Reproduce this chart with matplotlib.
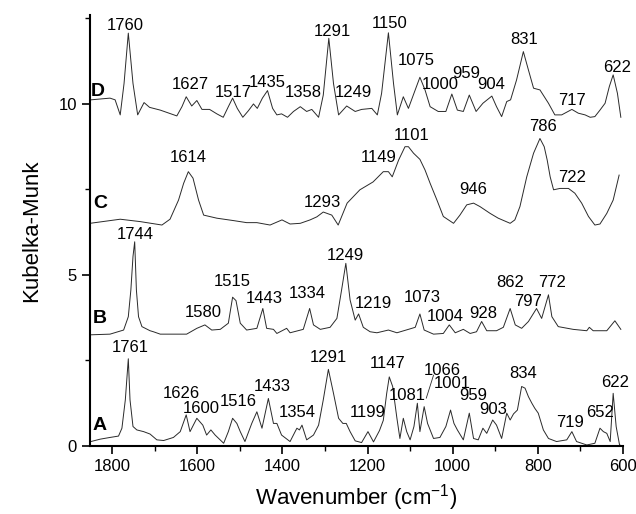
import matplotlib
matplotlib.use('Agg')
import matplotlib.pyplot as plt
from matplotlib.ticker import MultipleLocator

plt.rcParams['font.family'] = 'Liberation Sans'
plt.rcParams['mathtext.default'] = 'regular'

# spectrum A (offset 0)
wn_A = [1850, 1828, 1805, 1785, 1777, 1769, 1762, 1758, 1751, 1742, 1726, 1711, 1695, 1679,
        1656, 1640, 1626, 1617, 1601, 1587, 1578, 1568, 1558, 1538, 1527, 1517, 1507, 1499,
        1488, 1472, 1460, 1448, 1433, 1421, 1413, 1402, 1382, 1366, 1360, 1354, 1343, 1327,
        1315, 1304, 1292, 1280, 1268, 1258, 1250, 1241, 1229, 1214, 1199, 1186, 1172, 1163,
        1155, 1149, 1141, 1131, 1124, 1116, 1108, 1100, 1091, 1083, 1077, 1067, 1059, 1045,
        1030, 1016, 1005, 997, 989, 975, 961, 951, 940, 929, 920, 906, 897, 885, 873, 865,
        857, 848, 838, 830, 822, 814, 807, 799, 787, 775, 756, 732, 720, 709, 685, 666, 654,
        646, 638, 630, 623, 616, 608, 601]
km_A = [0.13, 0.20, 0.25, 0.29, 0.52, 1.35, 2.55, 1.35, 0.57, 0.47, 0.42, 0.35, 0.18, 0.16,
        0.25, 0.42, 0.91, 0.42, 0.81, 0.61, 0.32, 0.47, 0.32, 0.08, 0.42, 0.81, 0.66, 0.42,
        0.13, 0.66, 1.00, 0.52, 1.39, 0.66, 0.66, 0.32, 0.13, 0.52, 0.47, 0.61, 0.18, 0.32,
        0.61, 1.35, 2.24, 1.54, 0.81, 0.66, 0.66, 0.42, 0.15, 0.10, 0.42, 0.12, 0.45, 0.75,
        1.54, 2.02, 1.74, 0.81, 0.22, 0.81, 0.42, 0.18, 0.57, 1.25, 0.42, 1.15, 0.66, 0.22,
        0.25, 0.57, 1.05, 0.66, 0.47, 0.18, 0.96, 0.22, 0.18, 0.52, 0.37, 0.76, 0.61, 0.22,
        0.96, 0.76, 0.94, 1.05, 1.74, 1.69, 1.44, 1.25, 1.10, 0.96, 0.47, 0.22, 0.13, 0.18,
        0.42, 0.13, 0.03, 0.08, 0.52, 0.42, 0.37, 0.13, 1.54, 0.57, 0.03, 0.00]

# spectrum B
wn_B = [1852, 1805, 1773, 1762, 1756, 1751, 1747, 1743, 1738, 1730, 1711, 1703, 1687, 1625,
        1601, 1582, 1566, 1546, 1527, 1517, 1509, 1499, 1484, 1460, 1446, 1437, 1421, 1413,
        1390, 1382, 1351, 1336, 1327, 1311, 1288, 1272, 1261, 1251, 1241, 1229, 1221, 1210,
        1194, 1178, 1151, 1131, 1104, 1088, 1077, 1067, 1045, 1022, 1008, 994, 975, 959,
        944, 932, 920, 897, 881, 865, 853, 838, 822, 803, 791, 775, 767, 752, 717, 685, 679,
        670, 638, 619, 605]
km_B = [3.25, 3.27, 3.39, 3.78, 4.56, 5.54, 5.97, 4.56, 3.78, 3.49, 3.37, 3.34, 3.27, 3.27,
        3.44, 3.54, 3.39, 3.41, 3.59, 4.35, 4.25, 3.59, 3.39, 3.44, 4.02, 3.44, 3.41, 3.29,
        3.44, 3.31, 3.41, 4.02, 3.54, 3.41, 3.47, 3.73, 4.56, 5.34, 4.27, 3.68, 3.86, 3.47,
        3.34, 3.31, 3.39, 3.31, 3.41, 3.47, 3.86, 3.39, 3.27, 3.29, 3.54, 3.31, 3.41, 3.29,
        3.34, 3.64, 3.37, 3.37, 3.47, 4.02, 3.54, 3.44, 3.64, 4.02, 3.73, 4.42, 3.78, 3.49,
        3.41, 3.37, 3.47, 3.37, 3.37, 3.66, 3.41]

# spectrum C
wn_C = [1852, 1781, 1734, 1683, 1664, 1644, 1632, 1621, 1610, 1597, 1585, 1554, 1515, 1484,
        1460, 1429, 1401, 1382, 1358, 1335, 1319, 1304, 1284, 1269, 1248, 1218, 1187, 1163,
        1151, 1142, 1127, 1112, 1104, 1092, 1077, 1065, 1053, 1037, 1022, 998, 983, 967,
        951, 936, 912, 893, 865, 854, 842, 826, 810, 795, 785, 778, 771, 763, 748, 728, 713,
        697, 681, 666, 654, 638, 623, 609]
km_C = [6.51, 6.63, 6.56, 6.46, 6.63, 7.19, 7.68, 8.02, 7.83, 7.19, 6.75, 6.66, 6.59, 6.53,
        6.53, 6.46, 6.61, 6.49, 6.51, 6.61, 6.70, 6.84, 6.75, 6.46, 7.10, 7.49, 7.72, 8.02,
        8.02, 7.87, 8.36, 8.75, 8.75, 8.56, 8.38, 8.07, 7.68, 7.19, 6.71, 6.51, 6.75, 7.05,
        7.10, 7.00, 6.80, 6.66, 6.51, 6.61, 7.00, 7.87, 8.56, 8.99, 8.75, 8.36, 7.87, 7.49,
        7.53, 7.53, 7.39, 7.10, 6.71, 6.46, 6.49, 6.80, 7.19, 7.92]

# spectrum D
wn_D = [1850, 1805, 1793, 1781, 1772, 1762, 1751, 1740, 1725, 1712, 1687, 1648, 1636, 1626,
        1613, 1601, 1589, 1571, 1554, 1539, 1527, 1517, 1506, 1493, 1480, 1468, 1459, 1447,
        1435, 1423, 1413, 1402, 1388, 1374, 1358, 1343, 1331, 1315, 1304, 1291, 1280, 1268,
        1249, 1229, 1214, 1190, 1177, 1167, 1151, 1139, 1130, 1116, 1104, 1091, 1077, 1065,
        1053, 1034, 1016, 1002, 989, 975, 961, 945, 929, 908, 897, 885, 873, 864, 850, 834,
        822, 810, 795, 775, 760, 744, 720, 705, 689, 677, 666, 654, 642, 632, 623, 613, 605]
km_D = [10.12, 10.17, 10.12, 9.68, 10.60, 12.07, 10.60, 9.68, 10.04, 9.90, 9.82, 9.65, 9.92,
        10.21, 9.94, 10.10, 9.84, 9.84, 9.71, 9.61, 9.92, 10.17, 9.87, 9.61, 9.80, 10.00,
        9.87, 10.17, 10.39, 9.87, 9.68, 9.71, 9.61, 9.78, 9.92, 9.78, 9.84, 9.61, 10.26,
        11.92, 10.60, 9.68, 9.94, 9.78, 9.84, 9.87, 9.68, 10.31, 12.08, 10.60, 9.68, 10.21,
        9.87, 10.31, 10.78, 10.41, 9.92, 9.78, 9.78, 10.29, 9.82, 9.78, 10.26, 9.78, 10.02,
        10.23, 9.92, 9.63, 10.07, 10.12, 10.70, 11.53, 10.99, 10.46, 10.41, 10.02, 9.68, 9.68,
        9.84, 9.73, 9.68, 9.61, 9.63, 9.82, 10.02, 10.51, 10.85, 10.31, 9.61]

# peak labels: (text, wavenumber, KM) for the text centre
labels_A = [('1761', 1758, 2.87), ('1626', 1638, 1.54), ('1600', 1591, 1.11),
            ('1516', 1504, 1.29), ('1433', 1424, 1.73), ('1354', 1365, 0.97),
            ('1291', 1293, 2.60), ('1199', 1199, 0.97), ('1147', 1152, 2.42),
            ('1081', 1107, 1.49), ('1066', 1025, 2.22), ('1001', 1002, 1.84),
            ('959', 952, 1.49), ('903', 905, 1.08), ('834', 835, 2.13),
            ('719', 724, 0.70), ('652', 654, 0.99), ('622', 619, 1.87)]
labels_B = [('1744', 1746, 6.17), ('1580', 1586, 3.89), ('1515', 1518, 4.82),
            ('1443', 1443, 4.30), ('1334', 1342, 4.47), ('1249', 1253, 5.56),
            ('1219', 1187, 4.18), ('1073', 1072, 4.33), ('1004', 1018, 3.80),
            ('928', 929, 3.86), ('862', 865, 4.77), ('797', 823, 4.21), ('772', 767, 4.77)]
labels_C = [('1614', 1622, 8.42), ('1293', 1307, 7.11), ('1149', 1175, 8.42),
            ('1101', 1096, 9.09), ('946', 952, 7.51), ('786', 788, 9.33), ('722', 720, 7.84)]
labels_D = [('1760', 1769, 12.28), ('1627', 1617, 10.58), ('1517', 1516, 10.32),
            ('1435', 1436, 10.64), ('1358', 1351, 10.32), ('1291', 1283, 12.11),
            ('1249', 1234, 10.32), ('1150', 1147, 12.34), ('1075', 1086, 11.26),
            ('1000', 1030, 10.56), ('959', 969, 10.88), ('904', 910, 10.56),
            ('831', 832, 11.87), ('717', 720, 10.09), ('622', 614, 11.08)]
trace_names = [('A', 1830, 0.61), ('B', 1828, 3.74), ('C', 1828, 7.08), ('D', 1833, 10.35)]

fig = plt.figure(figsize=(6.36, 5.14), dpi=100)
ax = fig.add_axes([0.1415, 0.1323, 0.838, 0.8385])

line_color = '#2a2a2a'
for wn, km in [(wn_A, km_A), (wn_B, km_B), (wn_C, km_C), (wn_D, km_D)]:
    ax.plot(wn, km, color=line_color, lw=0.7)

for labs in [labels_A, labels_B, labels_C, labels_D]:
    for txt, x, y in labs:
        ax.text(x, y, txt, ha='center', va='center', fontsize=12)

for name, x, y in trace_names:
    ax.text(x, y, name, ha='center', va='center', fontsize=14, fontweight='bold')

# leader line for 1066
ax.plot([1045, 1062], [2.07, 1.40], color=line_color, lw=0.6)

ax.set_xlim(1852, 600)
ax.set_ylim(0, 12.6)
ax.xaxis.set_major_locator(MultipleLocator(200))
ax.xaxis.set_minor_locator(MultipleLocator(100))
ax.yaxis.set_major_locator(MultipleLocator(5))
ax.yaxis.set_minor_locator(MultipleLocator(2.5))
ax.tick_params(which='major', direction='out', length=6, width=1.2, labelsize=12)
ax.tick_params(which='minor', direction='out', length=3.5, width=1.0)

ax.spines['top'].set_visible(False)
ax.spines['right'].set_visible(False)
ax.spines['left'].set_linewidth(1.5)
ax.spines['bottom'].set_linewidth(1.5)

ax.set_xlabel(r'Wavenumber (cm$^{-1}$)', fontsize=16, labelpad=6)
ax.set_ylabel('Kubelka-Munk', fontsize=16, labelpad=12)

fig.savefig('out.png', dpi=100)
